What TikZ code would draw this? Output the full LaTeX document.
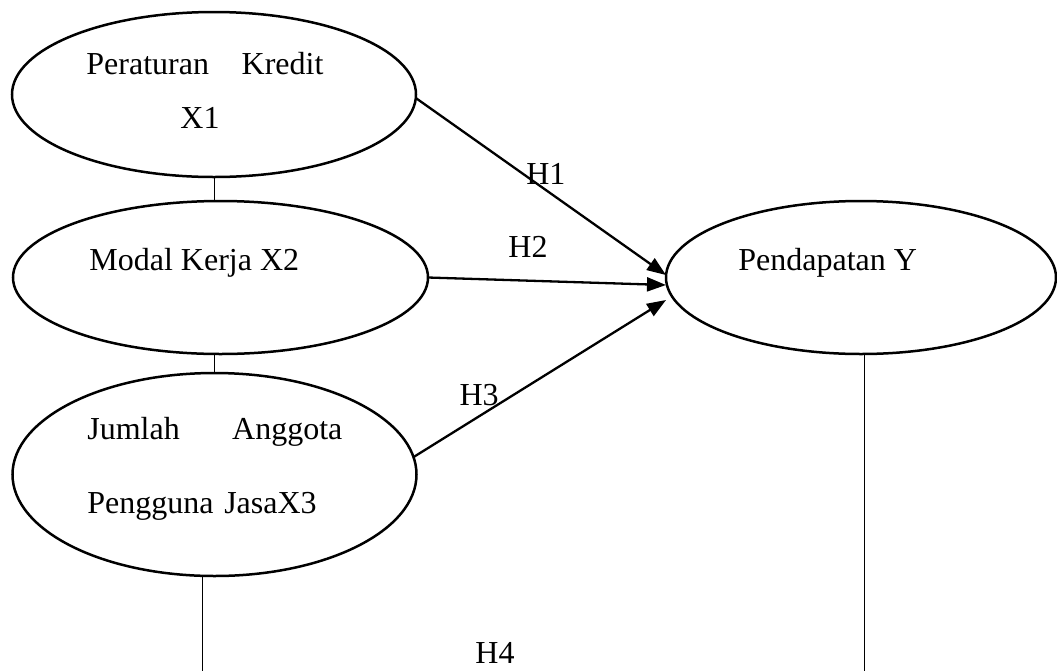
\documentclass[tikz,border=0pt]{standalone}
\usepackage{fontspec}
\setmainfont{Liberation Serif}
\usetikzlibrary{shapes.geometric, arrows.meta}

\begin{document}
\begin{tikzpicture}[x=0.5pt, y=-0.5pt,
    var/.style={draw, ellipse, line width=1.25pt, inner sep=0pt, outer sep=0pt},
    vtext/.style={anchor=base west, inner sep=0pt, font=\fontsize{16}{19}\selectfont},
    hlabel/.style={anchor=base, inner sep=0pt, font=\fontsize{16}{19}\selectfont},
    hyp/.style={-{Triangle[length=9.5pt, width=7pt]}, line width=1.15pt},
    link/.style={line width=0.5pt}]
    \useasboundingbox (0,0) rectangle (1057,671);

    \node[var, minimum width=202pt, minimum height=82.5pt] (x1) at (214,94.5) {};
    \node[var, minimum width=207.5pt, minimum height=76.5pt] (x2) at (220.5,277.5) {};
    \node[var, minimum width=202pt, minimum height=101.5pt] (x3) at (214.5,474.5) {};
    \node[var, minimum width=195pt, minimum height=76.5pt] (y) at (861,277.5) {};

    \node[vtext, text width=118.5pt, align=left] (x1text) at (86,74) {Peraturan\hfill Kredit\\[8pt]\hspace*{47pt}X1};
    \node[vtext] (x2text) at (89,270) {Modal Kerja X2};
    \node[vtext, text width=127.5pt, align=left] (x3text) at (87,439) {Jumlah\hfill Anggota\\[18pt]\mbox{Pengguna JasaX3}};
    \node[vtext] (ytext) at (738,270) {Pendapatan Y};

    \draw[link] (x1.south) -- (x1.south |- x2.north);
    \draw[link] (x3.north |- x2.south) -- (x3.north);

    \draw[hyp] (x1.-1.5) -- ([yshift=1.25pt]y.west) node[hlabel, pos=0.52, yshift=3pt]{H1};
    \draw[hyp] (x2.east) -- ([yshift=-3.75pt]y.west) node[hlabel, pos=0.42, yshift=11.8pt]{H2};
    \draw[hyp] (x3.5) -- ([yshift=-11.25pt]y.west) node[hlabel, pos=0.26, yshift=5.6pt]{H3};

    \coordinate (b3) at (202,671);
    \coordinate (by) at (864,671);
    \draw[link] (x3.south -| b3) -- (b3);
    \draw[link] (y.south -| by) -- (by);
    \node[hlabel] (h4) at (495,663) {H4};
\end{tikzpicture}
\end{document}
